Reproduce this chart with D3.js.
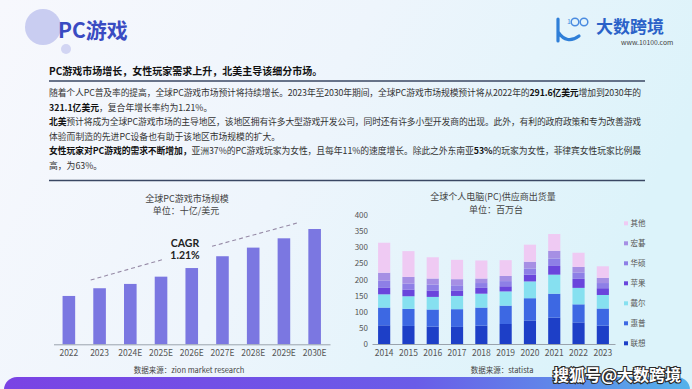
<!DOCTYPE html>
<html><head><meta charset="utf-8">
<script src="https://cdn.jsdelivr.net/npm/d3@7/dist/d3.min.js"></script>
<style>
html,body{margin:0;padding:0;overflow:hidden;background:#fff;}
text{font-family:"Noto Sans CJK SC","Noto Sans",sans-serif;}
</style></head>
<body>
<svg id="c" width="692" height="389"></svg>
<script>
// ---- Data ----
const marketYears = ["2022","2023","2024E","2025E","2026E","2027E","2028E","2029E","2030E"];
const marketValues = [29.16, 29.50, 29.69, 30.01, 30.39, 30.91, 31.29, 31.70, 32.11];

const shipYears = ["2014","2015","2016","2017","2018","2019","2020","2021","2022","2023"];
const vendors = ["联想","惠普","戴尔","苹果","华硕","宏碁","其他"];
const lenovo = [58,56,54,53,57,62,73,82,67,57];
const hp     = [55,53,53,55,56,57,69,74,56,53];
const dell   = [41,39,39,41,43,44,52,59,51,42];
const apple  = [20,21,20,17,18,16,21,27,28,21];
const asus   = [22,18,18,16,15,16,19,23,19,16];
const acer   = [25,21,19,19,14,16,21,24,18,16];
const others = [93,80,66,60,56,49,53,52,44,36];
const shipTicks = [0,50,100,150,200,250,300,350,400];
const vendorColors = ["#1d3fc7","#3d68e3","#86e0f0","#6a45dc","#8e7fe6","#a68fe4","#efcaf3"];

const svg = d3.select("#c");
const defs = svg.append("defs");

// background
const bg = defs.append("linearGradient").attr("id","bg").attr("x1","0").attr("x2","1").attr("y1","0").attr("y2","0.3");
bg.append("stop").attr("offset","0").attr("stop-color","#f7f8fd");
bg.append("stop").attr("offset","0.5").attr("stop-color","#eef5fc");
bg.append("stop").attr("offset","1").attr("stop-color","#dcf3fa");
svg.append("rect").attr("width",692).attr("height",389).attr("fill","url(#bg)");

// bottom band
const band = defs.append("linearGradient").attr("id","band").attr("x1","0").attr("x2","1");
band.append("stop").attr("offset","0").attr("stop-color","#7a43e4");
band.append("stop").attr("offset","0.6").attr("stop-color","#6a5ce8");
band.append("stop").attr("offset","1").attr("stop-color","#55b2ea");
svg.append("rect").attr("x",4).attr("y",377).attr("width",686).attr("height",30).attr("rx",13).attr("fill","url(#band)");

// header decoration
svg.append("circle").attr("cx",43).attr("cy",27).attr("r",18).attr("fill","#c9cdf1");
svg.append("circle").attr("cx",66).attr("cy",49).attr("r",5).attr("fill","#d2d5f3");
svg.append("text").attr("x",58).attr("y",31).attr("dy","0.35em").attr("font-size",21).attr("font-weight","bold")
  .attr("fill","#3a4bc2").text("PC游戏");

// logo
const logo = svg.append("g");
logo.append("path").attr("d","M558,19 L558,41 M558,32 Q567,45 579,36").attr("stroke","#2f7fd8").attr("stroke-width",3.2).attr("fill","none").attr("stroke-linecap","round");
logo.append("circle").attr("cx",575).attr("cy",22).attr("r",3.8).attr("fill","none").attr("stroke","#4a8be0").attr("stroke-width",1.5);
logo.append("circle").attr("cx",584).attr("cy",22).attr("r",3.8).attr("fill","none").attr("stroke","#4a8be0").attr("stroke-width",1.5);
logo.append("text").attr("x",567).attr("y",22).attr("dy","0.35em").attr("font-size",7).attr("fill","#4a8be0").text("1");
svg.append("text").attr("x",596).attr("y",27).attr("dy","0.35em").attr("font-size",17).attr("font-weight","bold")
  .attr("fill","#2a62c8").text("大数跨境");
svg.append("text").attr("x",621).attr("y",42.5).attr("dy","0.35em").attr("font-size",6.8)
  .attr("fill","#444").text("www.10100.com");

// heading
svg.append("text").attr("x",49).attr("y",71.5).attr("dy","0.35em").attr("font-size",10).attr("font-weight","bold")
  .attr("fill","#111").text("PC游戏市场增长，女性玩家需求上升，北美主导该细分市场。");
svg.append("line").attr("x1",49).attr("x2",645).attr("y1",81).attr("y2",81).attr("stroke","#3a4763").attr("stroke-width",1.5);
svg.append("line").attr("x1",49).attr("x2",645).attr("y1",180.5).attr("y2",180.5).attr("stroke","#3a4763").attr("stroke-width",1.5);

// body text lines
const bodyLines = [
  {y:93, full:true, parts:[["随着个人PC普及率的提高，全球PC游戏市场预计将持续增长。2023年至2030年期间，全球PC游戏市场规模预计将从2022年的",0],["291.6亿美元",1],["增加到2030年的",0]]},
  {y:107.5, parts:[["321.1亿美元",1],["，复合年增长率约为1.21%。",0]]},
  {y:122, full:true, parts:[["北美",1],["预计将成为全球PC游戏市场的主导地区，该地区拥有许多大型游戏开发公司，同时还有许多小型开发商的出现。此外，有利的政府政策和专为改善游戏",0]]},
  {y:136.5, parts:[["体验而制造的先进PC设备也有助于该地区市场规模的扩大。",0]]},
  {y:151, full:true, parts:[["女性玩家对PC游戏的需求不断增加，",1],["亚洲37%的PC游戏玩家为女性，且每年11%的速度增长。除此之外东南亚",0],["53%",1],["的玩家为女性，菲律宾女性玩家比例最",0]]},
  {y:165.5, parts:[["高，为63%。",0]]}
];
bodyLines.forEach(l=>{
  const nodes = l.parts.map(p=>svg.append("text").attr("x",0).attr("y",l.y).attr("dy","0.35em")
    .attr("font-size",8.8).attr("font-weight",p[1]?"bold":"normal").attr("fill",p[1]?"#111":"#333").text(p[0]));
  const widths = nodes.map(n=>n.node().getComputedTextLength());
  const total = d3.sum(widths);
  const nch = d3.sum(l.parts,p=>p[0].length);
  const ls = l.full ? (592-total)/nch : 0;
  let x = 49;
  nodes.forEach((n,i)=>{ n.attr("x",x).attr("letter-spacing",ls); x += widths[i] + ls*l.parts[i][0].length; });
});

// ---- Left chart ----
const gL = svg.append("g");
const xL = d3.scaleBand().domain(marketYears).range([53.5,330]).paddingInner(0.59).paddingOuter(0.295);
const yL = d3.scaleLinear().domain([27.03, 32.11]).range([344.3, 229]);
gL.selectAll("rect.bar").data(marketValues).join("rect").attr("class","bar")
  .attr("x",(d,i)=>xL(marketYears[i])).attr("width",xL.bandwidth())
  .attr("y",d=>yL(d)).attr("height",d=>yL.range()[0]-yL(d)).attr("fill","#7b77e1");
const axL = gL.append("g").attr("transform","translate(0,344.3)").call(d3.axisBottom(xL).tickSize(0).tickPadding(6));
axL.select(".domain").attr("stroke","#9aa3ad").attr("stroke-width",1);
axL.selectAll("text").attr("font-size",8.5).attr("fill","#555").attr("font-family","'Noto Sans CJK SC',sans-serif");
gL.append("text").attr("x",187).attr("y",198.5).attr("dy","0.35em").attr("text-anchor","middle").attr("font-size",9).attr("fill","#444").text("全球PC游戏市场规模");
gL.append("text").attr("x",186).attr("y",211).attr("dy","0.35em").attr("text-anchor","middle").attr("font-size",9).attr("fill","#444").text("单位：十亿/美元");
gL.append("text").attr("x",185).attr("y",243).attr("dy","0.35em").attr("text-anchor","middle").attr("font-size",10.5).attr("font-weight","bold").attr("fill","#222").style("font-family","Lato,'Open Sans',sans-serif").text("CAGR");
gL.append("text").attr("x",185).attr("y",255.5).attr("dy","0.35em").attr("text-anchor","middle").attr("font-size",10.5).attr("font-weight","bold").attr("fill","#222").style("font-family","Lato,'Open Sans',sans-serif").text("1.21%");
gL.append("line").attr("x1",90.7).attr("y1",280).attr("x2",162.3).attr("y2",259.7).attr("stroke","#968aa6").attr("stroke-width",1.1).attr("stroke-dasharray","4,3");
gL.append("line").attr("x1",212).attr("y1",246.3).attr("x2",298.3).attr("y2",222.7).attr("stroke","#968aa6").attr("stroke-width",1.1).attr("stroke-dasharray","4,3");
gL.append("text").attr("x",189).attr("y",370.5).attr("dy","0.35em").attr("text-anchor","middle").attr("font-size",7.5).attr("fill","#444").text("数据来源：zion market research");

// ---- Right chart ----
const gR = svg.append("g");
const seriesArr = [lenovo,hp,dell,apple,asus,acer,others];
const rows = shipYears.map((y,i)=>{ const r={year:y}; vendors.forEach((v,k)=>r[v]=seriesArr[k][i]); return r; });
const stack = d3.stack().keys(vendors)(rows);
const xR = d3.scaleBand().domain(shipYears).range([372,615]).paddingInner(0.5).paddingOuter(0.25);
const yR = d3.scaleLinear().domain([0,400]).range([344,215]);
gR.selectAll("g.layer").data(stack).join("g").attr("class","layer").attr("fill",(d,i)=>vendorColors[i])
  .selectAll("rect").data(d=>d).join("rect")
  .attr("x",d=>xR(d.data.year)).attr("width",xR.bandwidth())
  .attr("y",d=>yR(d[1])).attr("height",d=>yR(d[0])-yR(d[1]));
const axR = gR.append("g").attr("transform","translate(0,344)").call(d3.axisBottom(xR).tickSize(0).tickPadding(6));
axR.select(".domain").attr("stroke","#9aa3ad");
axR.selectAll("text").attr("font-size",8.5).attr("fill","#555").attr("font-family","'Noto Sans CJK SC',sans-serif");
const ayR = gR.append("g").attr("transform","translate(371,0)").call(d3.axisLeft(yR).tickValues(shipTicks).tickSize(0).tickPadding(3));
ayR.select(".domain").remove();
ayR.selectAll("text").attr("font-size",8).attr("fill","#555").attr("font-family","'Noto Sans CJK SC',sans-serif");
gR.append("text").attr("x",493).attr("y",197).attr("dy","0.35em").attr("text-anchor","middle").attr("font-size",9).attr("fill","#444").text("全球个人电脑(PC)供应商出货量");
gR.append("text").attr("x",496).attr("y",209.5).attr("dy","0.35em").attr("text-anchor","middle").attr("font-size",9).attr("fill","#444").text("单位：百万台");
gR.append("text").attr("x",502).attr("y",370).attr("dy","0.35em").attr("text-anchor","middle").attr("font-size",7.5).attr("fill","#444").text("数据来源：statista");

// legend (top: 其他 ... bottom: 联想)
const legendOrder = vendors.map((v,i)=>({v, c:vendorColors[i]})).reverse();
const lg = gR.append("g");
legendOrder.forEach((d,i)=>{
  const y = 223.3 + i*20;
  lg.append("rect").attr("x",624).attr("y",y-2).attr("width",4).attr("height",4).attr("fill",d.c);
  lg.append("text").attr("x",630.5).attr("y",y).attr("dy","0.35em").attr("font-size",7.5).attr("fill","#555").text(d.v);
});

// watermark
svg.append("text").attr("x",617).attr("y",375).attr("dy","0.35em").attr("text-anchor","middle").attr("font-size",16).attr("font-weight","bold")
  .attr("fill","#fff").attr("stroke","#2a2a2a").attr("stroke-width",2.2).attr("paint-order","stroke").text("搜狐号@大数跨境");
</script>
</body></html>
